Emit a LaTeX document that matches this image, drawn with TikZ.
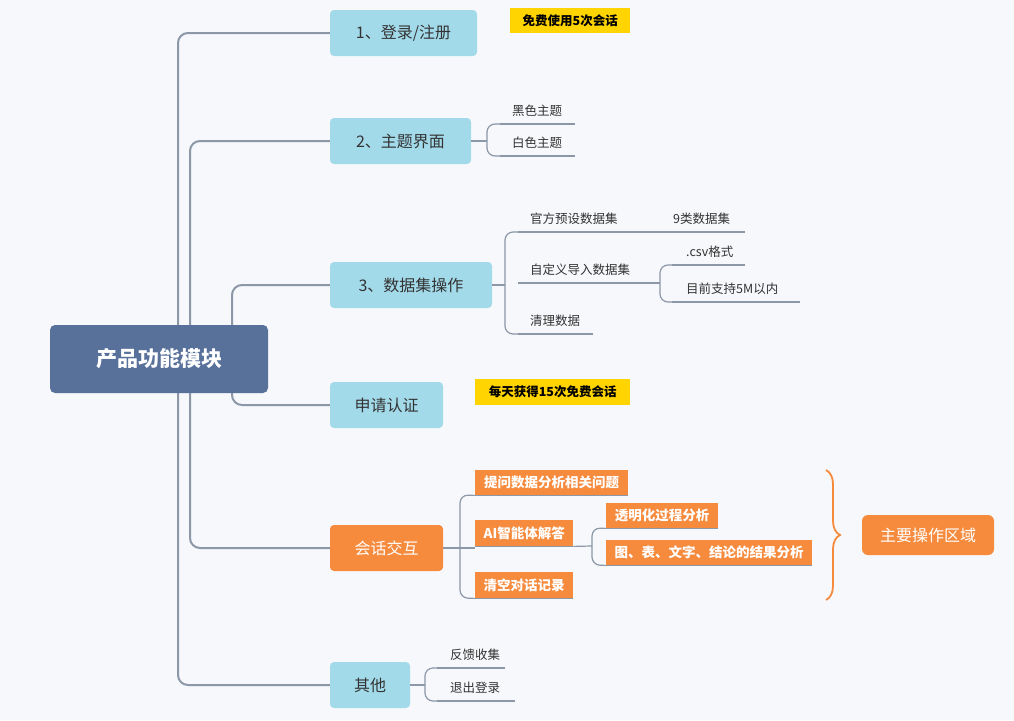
\documentclass[tikz,border=0pt]{standalone}
\usepackage{fontspec}
\setmainfont{Noto Sans CJK SC}
\usetikzlibrary{decorations.pathreplacing}
\definecolor{bg}{HTML}{F6F8FB}
\definecolor{lb}{HTML}{A3DAEA}
\definecolor{root}{HTML}{58719A}
\definecolor{org}{HTML}{F68B3E}
\definecolor{yel}{HTML}{FFD400}
\definecolor{ln}{HTML}{8C97A8}
\definecolor{tx}{HTML}{333333}
\begin{document}
\begin{tikzpicture}[x=1pt,y=-1pt,
 l1/.style={fill=lb,rounded corners=4pt,text=tx,font=\fontsize{16}{16}\selectfont,inner sep=0pt},
 ob/.style={fill=org,text=white,font=\fontsize{13.5}{13.5}\selectfont\bfseries,inner sep=0pt,anchor=north west},
 yb/.style={fill=yel,text=black,font=\fontsize{12.5}{12.5}\selectfont\bfseries,inner sep=0pt,anchor=north west},
 lf/.style={text=tx,font=\fontsize{12.5}{12.5}\selectfont,anchor=west,inner sep=0pt},
 tr/.style={draw=ln,line width=2pt,rounded corners=10pt},
 br/.style={draw=ln,line width=1.2pt,rounded corners=8pt},
 ul/.style={draw=ln,line width=1.2pt}]
\fill[bg] (0,0) rectangle (1014,720);
\useasboundingbox (0,0) rectangle (1014,720);
% level 1
\node[l1,minimum width=147pt,minimum height=46pt] (a) at (403.5,33) {1、登录/注册};
\node[l1,minimum width=141pt,minimum height=46pt] (b) at (400.5,141) {2、主题界面};
\node[l1,minimum width=162pt,minimum height=46pt] (c) at (411,285) {3、数据集操作};
\node[l1,minimum width=113pt,minimum height=46pt] (d) at (386.5,405) {申请认证};
\node[l1,fill=org,text=white,minimum width=113pt,minimum height=46pt] (e) at (386.5,548) {会话交互};
\node[l1,minimum width=80pt,minimum height=46pt] (f) at (370,685) {其他};
% trunks
\draw[tr] (a.west) -- (178,33) -- (178,685) -- (f.west);
\draw[tr] (b.west) -- (190,141) -- (190,548) -- (e.west);
\draw[tr] (c.west) -- (232,285) -- (232,405) -- (d.west);
% root
\node[fill=root,rounded corners=5pt,text=white,font=\fontsize{21}{21}\selectfont\bfseries,minimum width=218pt,minimum height=68pt] (r) at (159,359) {产品功能模块};
% callouts
\node[yb,minimum width=120pt,minimum height=25pt] (ya) at (510,8) {免费使用5次会话};
\node[yb,minimum width=155pt,minimum height=26pt] (yd) at (475,379) {每天获得15次免费会话};
% theme
\node[lf] (b1) at (512,111) {黑色主题};
\node[lf] (b2) at (512,143) {白色主题};
\draw[ul] (500,124) -- (575,124);
\draw[ul] (500,156) -- (575,156);
\draw[br] (b.east) -- (487,141);
\draw[br] (500,124) -- (487,124) -- (487,156) -- (500,156);
% dataset
\node[lf] (c1) at (530,219) {官方预设数据集};
\node[lf] (c2) at (530,270) {自定义导入数据集};
\node[lf] (c3) at (530,321) {清理数据};
\node[lf] (c11) at (673,219) {9类数据集};
\node[lf] (c21) at (686,252) {.csv格式};
\node[lf] (c22) at (686,289) {目前支持5M以内};
\draw[ul] (518,232) -- (745,232);
\draw[ul] (518,283) -- (650,283);
\draw[ul] (518,334) -- (593,334);
\draw[ul] (672,265) -- (745,265);
\draw[ul] (672,302) -- (800,302);
\draw[br] (c.east) -- (505,285);
\draw[br] (518,232) -- (505,232) -- (505,334) -- (518,334);
\draw[br] (650,283) -- (660,283);
\draw[br] (672,265) -- (660,265) -- (660,302) -- (672,302);
% chat
\node[ob,minimum width=153pt,minimum height=25pt] (e1) at (475,470) {提问数据分析相关问题};
\node[ob,minimum width=98pt,minimum height=26pt] (e2) at (475,520) {AI智能体解答};
\node[ob,minimum width=98pt,minimum height=26pt] (e3) at (475,572) {清空对话记录};
\node[ob,minimum width=112pt,minimum height=25pt] (e21) at (606,503) {透明化过程分析};
\node[ob,minimum width=206pt,minimum height=25pt] (e22) at (606,540) {图、表、文字、结论的结果分析};
\draw[ul] (e.east) -- (475,548);
\draw[br] (e1.south west) -- (460,495) -- (460,598) -- (e3.south west);
\draw[ul] (e1.south west) -- (e1.south east);
\draw[ul] (e2.south west) -- (e2.south east);
\draw[ul] (e3.south west) -- (e3.south east);
\draw[ul] (e21.south west) -- (e21.south east);
\draw[ul] (e22.south west) -- (e22.south east);
\draw[ul] (e2.south east) -- (592,546);
\draw[br] (e21.south west) -- (592,528) -- (592,565) -- (e22.south west);
% brace
\draw[org,line width=1.8pt,decorate,decoration={brace,amplitude=14pt}] (826,470) -- (826,600);
\node[fill=org,rounded corners=6pt,text=white,font=\fontsize{16}{16}\selectfont,minimum width=132pt,minimum height=40pt,inner sep=0pt] (m) at (928,535) {主要操作区域};
% others
\node[lf] (f1) at (450,655) {反馈收集};
\node[lf] (f2) at (450,688) {退出登录};
\draw[ul] (437,668) -- (505,668);
\draw[ul] (437,701) -- (515,701);
\draw[br] (f.east) -- (425,685);
\draw[br] (437,668) -- (425,668) -- (425,701) -- (437,701);
\end{tikzpicture}
\end{document}
